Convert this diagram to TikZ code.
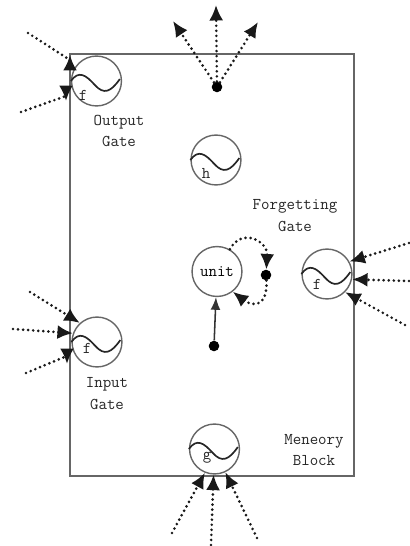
\documentclass[tikz,border=0pt]{standalone}
\usetikzlibrary{arrows.meta}
\tikzset{
  gate/.style={circle, draw=black!60, line width=1pt, minimum size=35.5pt, inner sep=0pt},
  wave/.style={line width=1.2pt, color=black!85},
  lab/.style={align=center, font=\ttfamily\fontsize{11.7}{15.6}\selectfont, color=black!85, inner sep=0pt},
  blackdot/.style={circle, fill=black, minimum size=7.5pt, inner sep=0pt},
  sig/.style={->, line width=2.1pt, color=black!90, line cap=round, dash pattern=on 0pt off 3.6pt},
}
\begin{document}
\begin{tikzpicture}[x=0.025cm, y=-0.025cm, >={Latex[length=11pt,width=10pt]}]
\useasboundingbox (0,0) rectangle (409,546);
% Draw the block
\draw[line width=1.1pt, color=black!60] (70,54) rectangle (354,476);

% draw the gates:
\node[gate] (outgate) at (96.5,81) {};
\node[gate] (hgate) at (216,160) {};
\node[gate, font=\ttfamily\fontsize{11.7}{15.6}\selectfont] (unit) at (217,271.5) {unit};
\node[gate] (forgate) at (327,274) {};
\node[gate] (ingate) at (97,342) {};
\node[gate] (ggate) at (214.5,449) {};
\foreach \g in {outgate,hgate,forgate,ingate,ggate}
  \draw[wave] (\g.west) .. controls +(8,-11) and +(-9,-10) .. ++(24,4) .. controls +(9,10) and +(-9,13) .. ++(25,-6);

\node[lab] (outf) at (83,95) {f};
\node[lab] (hh) at (206,173) {h};
\node[lab] (forf) at (317,284) {f};
\node[lab] (inf) at (87,348) {f};
\node[lab] (gg) at (207,458) {g};

\node[lab] (outlab) at (119,131) {Output\\Gate};
\node[lab] (forlab) at (295,216) {Forgetting\\Gate};
\node[lab] (inlab) at (107,394) {Input\\Gate};
\node[lab] (blocklab) at (314,450) {Meneory\\Block};

% draw the dots:
\node[blackdot] (topdot) at (217,87) {};
\node[blackdot] (unitdot) at (214,346) {};
\node[blackdot] (loopdot) at (266,275) {};

% free ends
\coordinate (topa) at (173,21);
\coordinate (topb) at (216,5);
\coordinate (topc) at (258,22);
\coordinate (outa) at (28,33);
\coordinate (outakink) at (70,60);
\coordinate (outatip) at (70,55);
\coordinate (outb) at (21,112);
\coordinate (outbkink) at (66,96);
\coordinate (outbtip) at (66,101);
\coordinate (ina) at (30,292);
\coordinate (inb) at (13,329);
\coordinate (inc) at (26,373);
\coordinate (inckink) at (67,356);
\coordinate (inctip) at (67,364);
\coordinate (fora) at (409,243);
\coordinate (forb) at (409,281);
\coordinate (forc) at (405,325);
\coordinate (ga) at (172,533);
\coordinate (gb) at (211,545);
\coordinate (gc) at (257,538);

% draw the arrows:
\draw[sig] (topdot) -- (topa);
\draw[sig] (topdot) -- (topb);
\draw[sig] (topdot) -- (topc);
\draw[sig] (outa) -- (outakink) -- (outatip);
\draw[sig] (outb) -- (outbkink) -- (outbtip);
\draw[sig] (ina) -- (ingate.132);
\draw[sig] (inb) -- (ingate.160);
\draw[sig] (inc) -- (inckink) -- (inctip);
\draw[sig] (fora) -- (forgate.29);
\draw[sig] (forb) -- (forgate.-12);
\draw[sig] (forc) -- (forgate.-45);
\draw[sig] (ga) -- (ggate.248);
\draw[sig] (gb) -- (ggate.268);
\draw[sig] (gc) -- (ggate.295);
\draw[-{Latex[length=9pt,width=7pt]}, line width=1.1pt, color=black!80] (unitdot) -- (unit);
\draw[sig] (unit.60) .. controls +(12,-22) and +(2,-34) .. (loopdot);
\draw[sig] (loopdot) .. controls +(2,34) and +(18,14) .. (unit.-52);
\end{tikzpicture}
\end{document}
